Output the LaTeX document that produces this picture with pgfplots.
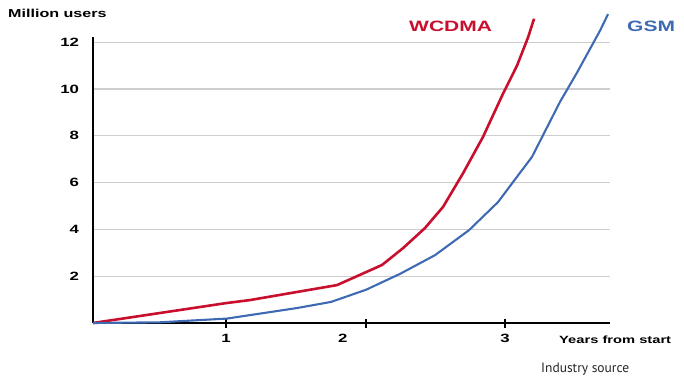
\documentclass[border=0pt]{standalone}
\usepackage{fontspec}
\setmainfont{Liberation Sans}
\newfontfamily\wide[FakeStretch=1.4]{Liberation Sans}
\newfontfamily\srcfont{PT Sans}
\usepackage{pgfplots}
\pgfplotsset{compat=1.18}
\definecolor{wcdma}{RGB}{200,16,46}
\definecolor{gsm}{RGB}{62,106,180}
\definecolor{gridgray}{RGB}{206,206,206}

\begin{document}
\begin{tikzpicture}
\begin{axis}[
  at={(0pt,0pt)}, anchor=south west,
  scale only axis, width=517pt, height=286pt,
  xmin=0, xmax=3.765, ymin=0, ymax=12.22,
  axis lines=left, axis line style={line width=1.6pt, -},
  ymajorgrids, grid style={gridgray, line width=1.3pt},
  ytick={2,4,...,12}, ytick style={draw=none},
  xtick={0.969,1.988,3}, xticklabels={},
  x tick style={black, line width=1.4pt},
  xtick align=center, major tick length=9pt,
  extra x ticks={0.969,1.82,3}, extra x tick labels={1,2,3},
  extra x tick style={major tick length=0pt, tick style={draw=none}},
  tick label style={font=\wide\bfseries\fontsize{12}{14}\selectfont},
  /pgf/number format/assume math mode=true,
  yticklabel style={anchor=east, xshift=-6pt},
  xticklabel style={anchor=north, yshift=-8pt},
  clip=false,
]
% WCDMA subscribers, million
\addplot[wcdma, line width=2.6pt] coordinates {
  (0,0) (0.969,0.85) (1.143,0.98) (1.777,1.62) (2.105,2.48) (2.258,3.2)
  (2.418,4.06) (2.549,4.96) (2.695,6.4) (2.840,7.95) (2.986,9.8)
  (3.088,11.0) (3.168,12.2) (3.212,13.0)
};
% GSM subscribers, million
\addplot[gsm, line width=2.1pt] coordinates {
  (0,0) (0.488,0.03) (0.976,0.19) (1.486,0.64) (1.733,0.9) (1.988,1.42)
  (2.236,2.1) (2.491,2.9) (2.739,3.97) (2.950,5.17) (3.197,7.1)
  (3.401,9.45) (3.525,10.7) (3.693,12.5) (3.751,13.2)
};
\end{axis}
\node[anchor=west, inner sep=0, font=\wide\bfseries\fontsize{11.5}{13}\selectfont] at (-85pt,310pt) {Million users};
\node[anchor=west, inner sep=0, font=\wide\bfseries\fontsize{10.5}{12}\selectfont] at (466pt,-17pt) {Years from start};
\node[anchor=base west, inner sep=0, font=\srcfont\fontsize{13.5}{15}\selectfont, text=black!85] at (448pt,-49pt) {Industry source};
\node[anchor=west, inner sep=0, font=\wide\bfseries\fontsize{15}{17}\selectfont, text=wcdma] at (316pt,297pt) {WCDMA};
\node[anchor=west, inner sep=0, font=\wide\bfseries\fontsize{15}{17}\selectfont, text=gsm] at (534pt,297pt) {GSM};
\pgfresetboundingbox
\useasboundingbox (-93pt,-53pt) rectangle (591pt,323pt);
\end{tikzpicture}
\end{document}
